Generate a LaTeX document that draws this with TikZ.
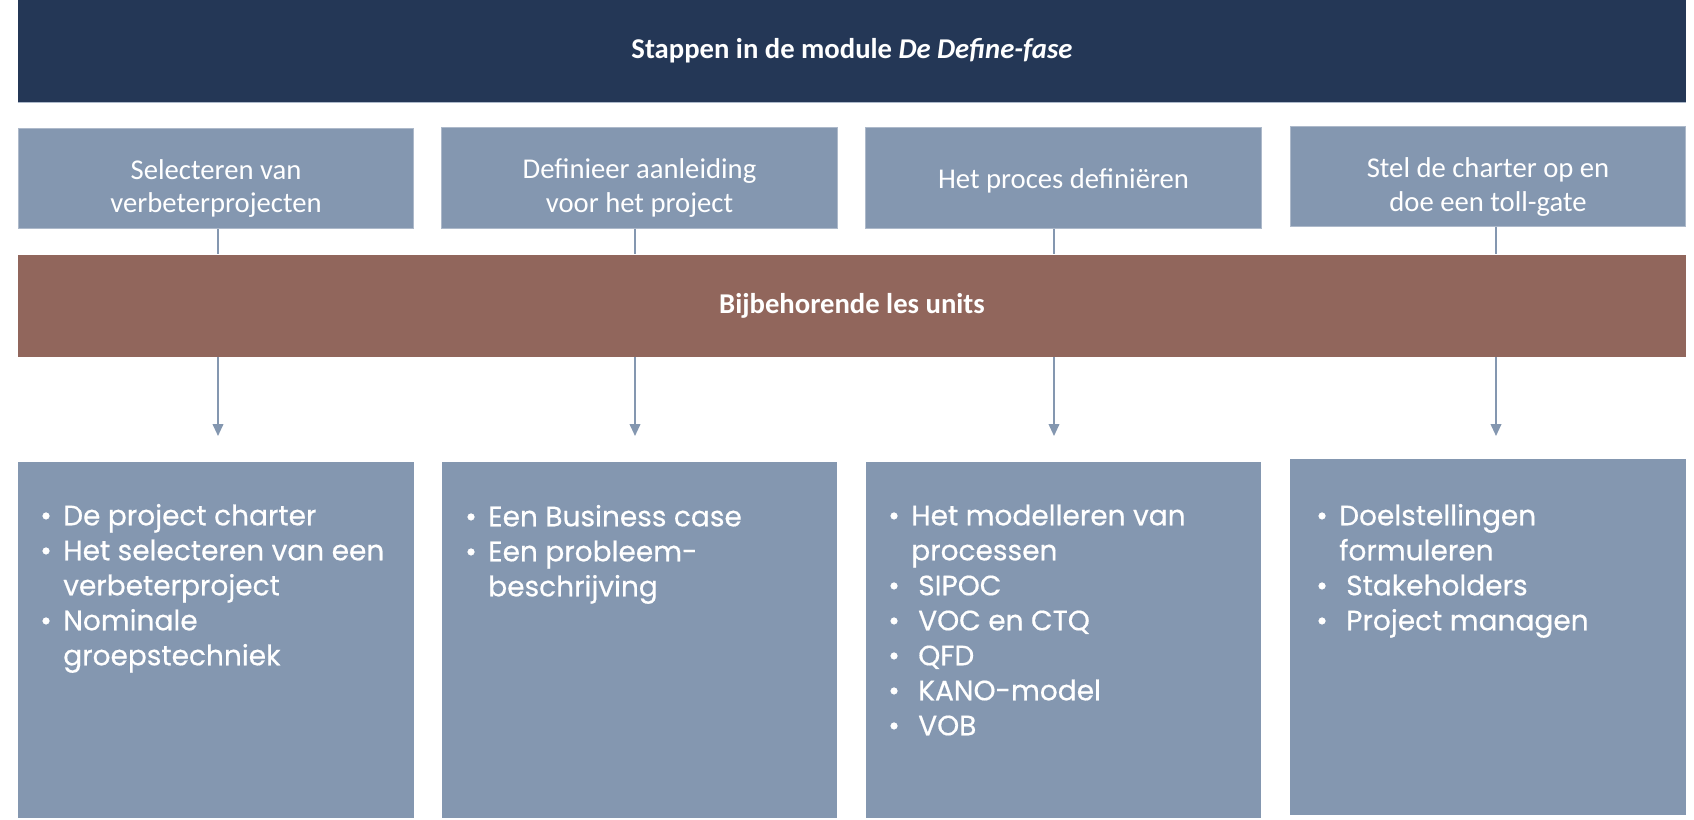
\documentclass[tikz,border=0pt]{standalone}
\usepackage{fontspec}
\setmainfont{Carlito}
\newfontfamily\listfont[FakeBold=0.5]{Poppins}
\usetikzlibrary{positioning,arrows.meta}

\definecolor{navy}{RGB}{36,55,86}
\definecolor{steel}{RGB}{132,151,176}
\definecolor{rim}{RGB}{173,185,202}
\definecolor{clay}{RGB}{145,102,92}

\newcommand{\itm}[1]{\makebox[17.25pt][l]{\strut\textbullet}#1}
\newcommand{\itmw}[1]{\makebox[22.5pt][l]{\strut\textbullet}#1}
\newcommand{\cnt}[1]{\strut\hspace*{17.25pt}#1}

\tikzset{
	banner/.style={fill=navy, minimum width=1251pt, minimum height=76.5pt, inner sep=0pt, text=white, font=\fontsize{21.5}{25}\selectfont\bfseries},
	unitbar/.style={fill=clay, minimum width=1251pt, minimum height=76.5pt, inner sep=0pt, text=white, font=\fontsize{21.5}{25}\selectfont\bfseries},
	stepbox/.style={fill=steel, draw=rim, line width=0.75pt, minimum width=296.5pt, minimum height=75.5pt, inner sep=0pt},
	steptext/.style={text=white, align=center, inner sep=0pt, font=\fontsize{21.5}{25.1}\selectfont},
	unitbox/.style={fill=steel, minimum width=296.5pt, minimum height=267pt, inner sep=0pt},
	unitlist/.style={text=white, align=left, inner sep=0pt, anchor=north west, font=\listfont\fontsize{21}{26.25}\selectfont},
	link/.style={draw=steel, line width=1.3pt},
	flow/.style={link, -{Triangle[length=9pt,width=8pt]}}
}

\begin{document}
\begin{tikzpicture}[x=0.75pt,y=-0.75pt]
	\useasboundingbox (0,0) rectangle (1694,819);
	\fill[white] (0,0) rectangle (1694,819);

	\node[banner] (head) at (852,51) {Stappen in de module \textit{De Define-fase}};
	\draw[rim, line width=0.75pt] (head.south west) -- (head.south east);

	\node[stepbox] (s1) at (216,178.5) {};
	\node[stepbox] (s2) at (639.5,178) {};
	\node[stepbox] (s3) at (1063.5,178) {};
	\node[stepbox] (s4) at (1488,176.5) {};

	\node[steptext] (s1t) at ([yshift=-7.5pt]s1.center) {Selecteren van\\verbeterprojecten};
	\node[steptext] (s2t) at ([yshift=-7.5pt]s2.center) {Definieer aanleiding\\voor het project};
	\node[steptext] (s3t) at ([yshift=-2.5pt]s3.center) {Het proces definiëren};
	\node[steptext] (s4t) at ([yshift=-8pt]s4.center) {Stel de charter op en\\doe een toll-gate};

	\node[unitbar] (units) at (852,305.5) {Bijbehorende les units};

	\node[unitbox] (u1) at (216,640) {};
	\node[unitbox] (u2) at (639.5,640) {};
	\node[unitbox] (u3) at (1063.5,640) {};
	\node[unitbox] (u4) at (1488,637) {};

	\node[unitlist] (l1) at (40,500.5) {\itm{De project charter}\\\itm{Het selecteren van een}\\\cnt{verbeterproject}\\\itm{Nominale}\\\cnt{groepstechniek}};
	\node[unitlist] (l2) at (465,501.5) {\itm{Een Business case}\\\itm{Een probleem-}\\\cnt{beschrijving}};
	\node[unitlist] (l3) at (888,500.5) {\itm{Het modelleren van}\\\cnt{processen}\\\itmw{SIPOC}\\\itmw{VOC en CTQ}\\\itmw{QFD}\\\itmw{KANO-model}\\\itmw{VOB}};
	\node[unitlist] (l4) at (1316,500.5) {\itm{Doelstellingen}\\\cnt{formuleren}\\\itmw{Stakeholders}\\\itmw{Project managen}};

	\foreach \i/\x in {1/218,2/635,3/1054,4/1496} {
		\coordinate (t\i) at (\x,436);
		\draw[link] (s\i.south -| t\i) -- (units.north -| t\i);
		\draw[flow] (units.south -| t\i) -- (t\i);
	}
\end{tikzpicture}
\end{document}
